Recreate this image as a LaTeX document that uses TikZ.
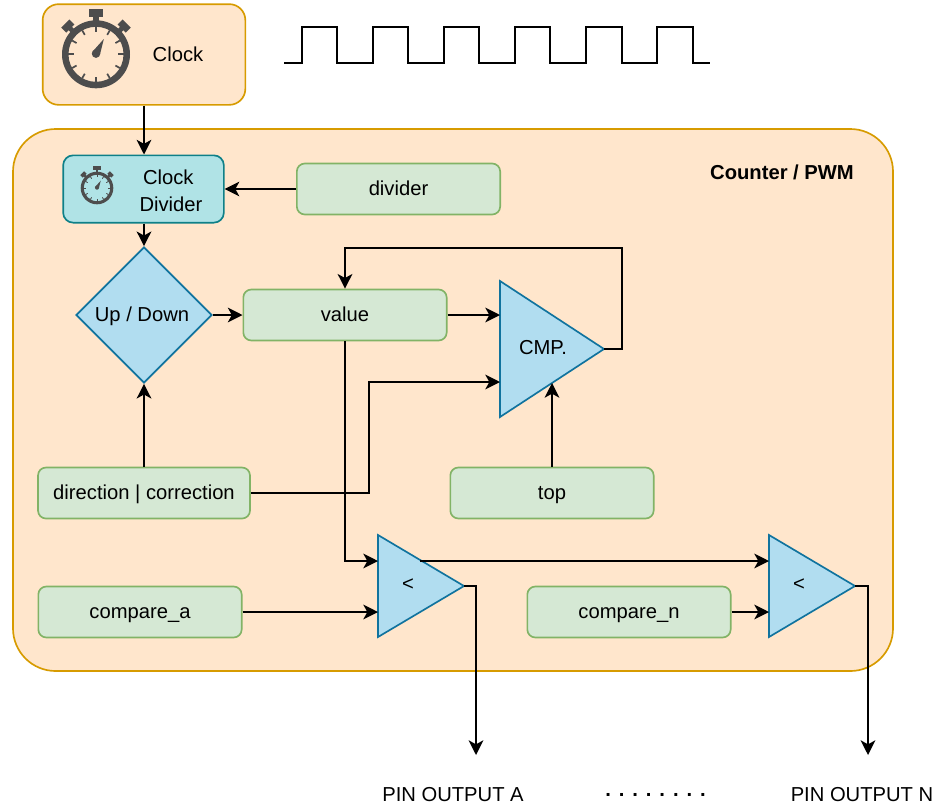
\documentclass[tikz,border=0pt]{standalone}
\usepackage{fontspec}
\setmainfont{Liberation Sans}
\usetikzlibrary{arrows.meta,shapes.geometric}
\definecolor{peachfill}{HTML}{FFE6CC}
\definecolor{peachline}{HTML}{D79B00}
\definecolor{greenfill}{HTML}{D5E8D4}
\definecolor{greenline}{HTML}{82B366}
\definecolor{bluefill}{HTML}{B1DDF0}
\definecolor{blueline}{HTML}{10739E}
\definecolor{tealfill}{HTML}{B0E3E6}
\definecolor{tealline}{HTML}{0E8088}
\definecolor{watchgray}{HTML}{4D4D4D}
\tikzset{
  lbl/.style={font=\fontsize{15.15}{20}\selectfont,text=black,inner sep=0pt,align=center,text height=12pt,text depth=2.2pt},
  regbox/.style={draw=greenline,fill=greenfill,line width=1.25pt,rounded corners=6pt,lbl,minimum height=38.25pt,minimum width=152.5pt},
  peachbox/.style={draw=peachline,fill=peachfill,line width=1.25pt},
  tri/.style={draw=blueline,fill=bluefill,line width=1.25pt,line join=miter},
  conn/.style={draw=black,line width=1.35pt,-{Stealth[length=11pt,width=11pt,inset=3pt]}},
  stopwatch/.pic={
    \fill[watchgray,even odd rule] (0,0) circle [radius=1] (0,0) circle [radius=.81];
    \foreach \a in {0,30,...,330}{\fill[watchgray,rotate=\a] (-.025,-.81) rectangle (.025,-.66);}
    \fill[watchgray] (0,-.02) circle [radius=.125];
    \fill[watchgray] (-.1,-.08) -- (.23,-.45) -- (.11,.03) -- cycle;
    \fill[watchgray] (-.09,-1.12) rectangle (.09,-.95);
    \fill[watchgray] (-.22,-1.34) rectangle (.22,-1.11);
    \foreach \a in {-45,45}{
      \fill[watchgray,rotate=\a] (-.07,-1.1) rectangle (.07,-.95);
      \fill[watchgray,rotate=\a] (-.17,-1.28) rectangle (.17,-1.07);
    }
  }
}
\begin{document}
\begin{tikzpicture}[x=0.75pt,y=-0.75pt]
\useasboundingbox (0,0) rectangle (941,807);
% outer blocks
\node[peachbox,rounded corners=12pt,minimum width=152pt,minimum height=75.5pt,inner sep=0pt] (clock) at (144,54.5) {};
\node[peachbox,rounded corners=32pt,minimum width=660pt,minimum height=406.5pt,inner sep=0pt] (counter) at (453,400) {};
\pic[scale=34] at (96,54.3) {stopwatch};
\node[lbl] (clocktxt) at (178,54.5) {Clock};
\node[lbl] (countertxt) at (782,172.5) {\bfseries Counter / PWM};
% square wave
\draw[line width=1.1pt,black] (284,63) -- (302,63) -- (302,27) -- (337,27) -- (337,63) -- (373,63) -- (373,27) -- (408,27) -- (408,63) -- (444,63) -- (444,27) -- (479,27) -- (479,63) -- (515,63) -- (515,27) -- (550,27) -- (550,63) -- (586,63) -- (586,27) -- (622,27) -- (622,63) -- (657,63) -- (657,27) -- (693,27) -- (693,63) -- (710,63);
% boxes
\node[draw=tealline,fill=tealfill,line width=1.25pt,rounded corners=7.5pt,minimum width=120.5pt,minimum height=50.5pt,inner sep=0pt] (cdiv) at (143.5,189) {};
\pic[scale=16.3] at (97,188) {stopwatch};
\node[lbl,text height=,text depth=] (cdivtxt) at (171,190.5) {Clock\hspace*{4pt}\\Divider};
\node[regbox] (divider) at (398.5,189) {divider};
\node[regbox] (value) at (345,315) {value};
\node[regbox,minimum width=159pt] (dir) at (144,493) {direction | correction};
\node[regbox] (top) at (552,493) {top};
\node[regbox] (cmpa) at (140,612) {compare\_a};
\node[regbox] (cmpn) at (629,612) {compare\_n};
\node[draw=blueline,fill=bluefill,line width=1.25pt,diamond,aspect=1,minimum width=102pt,minimum height=102pt,inner sep=0pt] (updown) at (144,315) {};
\node[lbl] (updowntxt) at (142,314.5) {Up / Down};
% triangles
\coordinate (cmptl) at (500,281); \coordinate (cmpbl) at (500,417); \coordinate (cmpout) at (604,349);
\coordinate (atl) at (378,535); \coordinate (abl) at (378,637); \coordinate (aout) at (464,586);
\coordinate (ntl) at (769,535); \coordinate (nbl) at (769,637); \coordinate (nout) at (855,586);
\draw[tri] (cmptl) -- (cmpout) -- (cmpbl) -- cycle;
\draw[tri] (atl) -- (aout) -- (abl) -- cycle;
\draw[tri] (ntl) -- (nout) -- (nbl) -- cycle;
\node[lbl] (cmptxt) at (543,348) {CMP.};
\node[lbl] (atxt) at (408,584) {<};
\node[lbl] (ntxt) at (799,584) {<};
% connector points
\coordinate (cmpin1) at (500,315);
\coordinate (cmpin2) at (500,382);
\coordinate (cmpbot) at (552,383);
\coordinate (fbr) at (622,248);
\coordinate (jog) at (369,440);
\coordinate (ain1) at (378,561);
\coordinate (ain2) at (378,612);
\coordinate (athru) at (420,561);
\coordinate (nin1) at (769,561);
\coordinate (nin2) at (769,612);
\coordinate (pina) at (476,755);
\coordinate (pinn) at (868,755);
% connectors
\draw[conn] (clock.south) -- (clock.south |- cdiv.north);
\draw[conn] (divider.west) -- (cdiv.east |- divider.west);
\draw[conn] (clock.south |- cdiv.south) -- (updown.north);
\draw[conn] (updown.east) -- (value.west);
\draw[conn] (value.east) -- (cmpin1);
\draw[conn] (cmpout) -| (fbr) -| (value.north);
\draw[conn] (dir.east) -| (jog) |- (cmpin2);
\draw[conn] (dir.north) -- (updown.south);
\draw[conn] (top.north) -- (top.north |- cmpbot);
\draw[conn] (value.south) |- (ain1);
\draw[conn] (athru) -- (nin1);
\draw[conn] (cmpa.east) -- (ain2);
\draw[conn] (cmpn.east) -- (nin2);
\draw[conn] (aout) -| (pina);
\draw[conn] (nout) -| (pinn);
% pin labels
\node[lbl] (pinatxt) at (453,794.5) {PIN OUTPUT A};
\node[lbl] (pinntxt) at (862,794.5) {PIN OUTPUT N};
\node[lbl] (dots) at (655.5,790) {\bfseries .\kern5.95pt.\kern5.95pt.\kern5.95pt.\kern5.95pt.\kern5.95pt.\kern5.95pt.\kern5.95pt.};
\end{tikzpicture}
\end{document}
